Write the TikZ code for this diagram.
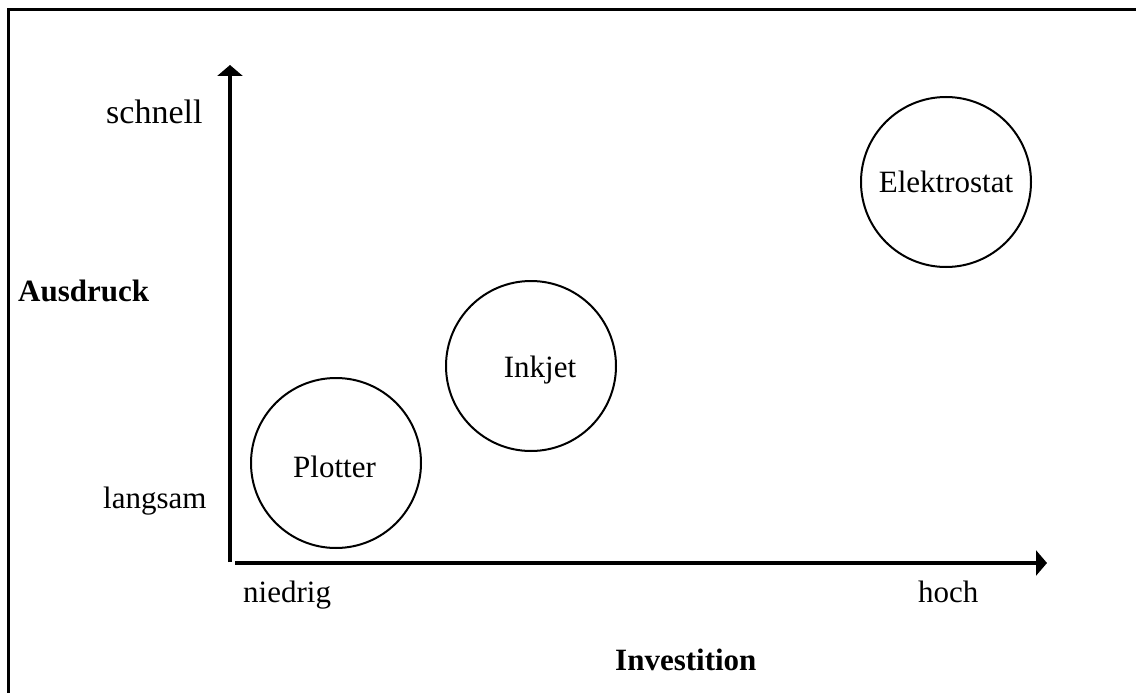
\documentclass[tikz,border=0pt]{standalone}
\usepackage{fontspec}
\setmainfont{Liberation Serif}
\usetikzlibrary{arrows.meta}
\tikzset{
  axis/.style={line width=4pt, -{Triangle[length=11pt,width=25pt]}},
  bubble/.style={draw, circle, line width=2pt, minimum size=170pt, inner sep=0pt},
  lbl/.style={anchor=base west, inner sep=0pt},
  big/.style={font=\fontsize{31}{37}\selectfont},
}
\begin{document}
\begin{tikzpicture}[x=1pt,y=-1pt,big]
  \useasboundingbox (0,0) rectangle (1136,693);
  \clip (0,0) rectangle (1136,693);
  % frame, running off the right and bottom edges
  \draw[line width=3pt] (8,10) rectangle (1160,720);

  % axes
  \coordinate (ybot) at (230,562);
  \coordinate (ytop) at (230,65);
  \coordinate (xleft) at (235,563);
  \coordinate (xright) at (1047,563);
  \draw[axis] (ybot) -- (ytop);
  \draw[axis] (xleft) -- (xright);

  % axis labels
  \node[lbl, font=\fontsize{34}{40}\selectfont] (schnell) at (106,124) {schnell};
  \node[lbl] (langsam) at (103,508) {langsam};
  \node[lbl] (ausdruck) at (18,301) {\bfseries Ausdruck};
  \node[lbl] (niedrig) at (243,602) {niedrig};
  \node[lbl] (hoch) at (918,602) {hoch};
  \node[lbl] (invest) at (615,670) {\bfseries Investition};

  % printer classes
  \node[bubble] (plotter) at (336,463) {};
  \node[bubble] (inkjet) at (531,366) {};
  \node[bubble] (elektro) at (946,182) {};
  \node[lbl] (tplotter) at (293,477) {Plotter};
  \node (tinkjet) at (540,370) {Inkjet};
  \node (telektro) at (946,182) {Elektrostat};
\end{tikzpicture}
\end{document}
